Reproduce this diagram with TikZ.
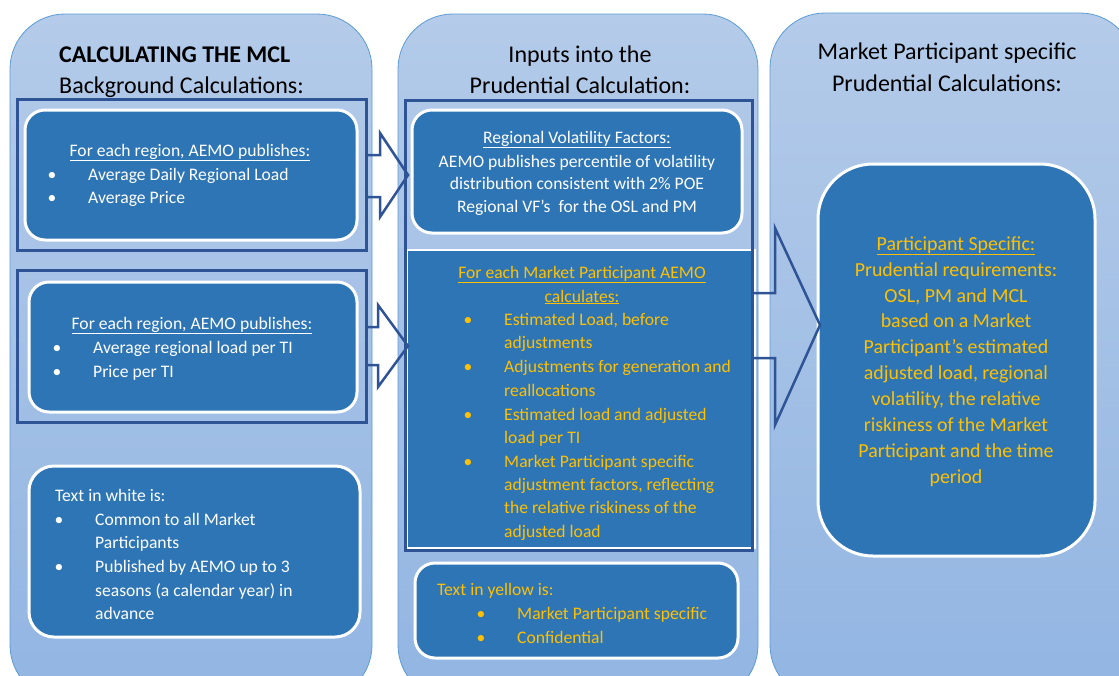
\documentclass[tikz,border=0pt]{standalone}
\usepackage{fontspec}
\setmainfont{Carlito}
\definecolor{colTop}{HTML}{B4CBE9}
\definecolor{colBot}{HTML}{92B5E2}
\definecolor{colEdge}{HTML}{5B9BD5}
\definecolor{boxBlue}{HTML}{2E75B6}
\definecolor{navy}{HTML}{2F5496}
\definecolor{ylw}{HTML}{FFC000}
\tikzset{
  column/.style={top color=colTop, bottom color=colBot, draw=colEdge, line width=0.8pt, rounded corners=55pt},
  outl/.style={draw=navy, line width=3pt},
  inbox/.style={fill=boxBlue, draw=white, line width=3pt, rounded corners=20pt},
  barrow/.style={draw=navy, line width=2.5pt, line join=miter},
  wl/.style={anchor=base west, inner sep=0pt},
  cl/.style={anchor=base, inner sep=0pt},
  body/.style={font=\fontsize{17.6}{21}\selectfont},
  ttl/.style={font=\fontsize{24}{28}\selectfont},
  big/.style={font=\fontsize{19.9}{23}\selectfont},
}
\begin{document}
\begin{tikzpicture}[x=1pt,y=-1pt]
\useasboundingbox (0,0) rectangle (1119,675);
\clip (0,0) rectangle (1119,675);
% columns
\path[column] (10,14) rectangle (372,700);
\path[column] (398,14) rectangle (758,700);
\path[column] (770,13) rectangle (1135,700);
% column 1 boxes
\path[outl] (17,99) rectangle (366,250);
\path[inbox] (25,110) rectangle (357,240);
\path[outl] (17,270) rectangle (366,422);
\path[inbox] (29,282) rectangle (357,412);
\path[inbox, rounded corners=25pt] (29,466) rectangle (360,637);
% column 2 boxes
\path[fill=boxBlue, draw=white, line width=2pt] (407,250) rectangle (755,548);
\path[outl] (405,100) rectangle (752,550);
\path[inbox] (412,110) rectangle (742,233);
\path[inbox] (415,563) rectangle (738,658);
% column 3 box
\path[inbox, rounded corners=55pt] (818,164) rectangle (1095,556);
% block arrows
\draw[barrow] (366,155) -- (380,155) -- (380,133) -- (408,175) -- (380,217) -- (380,197) -- (366,197);
\draw[barrow] (366,327) -- (378,327) -- (378,305) -- (408,346) -- (378,387) -- (378,365) -- (366,365);
\draw[barrow] (752,293) -- (775,293) -- (775,228) -- (820,325) -- (775,425) -- (775,358) -- (752,358);
% titles
\node[wl, font=\fontsize{24}{28}\selectfont\bfseries] (t1a) at (59,62) {CALCULATING THE MCL};
\node[wl, ttl] (t1b) at (59,93) {Background Calculations:};
\node[cl, ttl] (t2a) at (580,62) {Inputs into the};
\node[cl, ttl] (t2b) at (580,93) {Prudential Calculation:};
\node[cl, ttl] (t3a) at (947,59) {Market Participant specific};
\node[cl, ttl] (t3b) at (947,91) {Prudential Calculations:};
% column 1 box 1 text
\begin{scope}[text=white, body]
\node[cl] (a0) at (190,156) {\underline{For each region, AEMO publishes:}};
\node[cl] (a1b) at (52,180) {•};
\node[wl] (a1) at (88,180) {Average Daily Regional Load};
\node[cl] (a2b) at (52,203) {•};
\node[wl] (a2) at (88,203) {Average Price};
% box 2
\node[cl] (b0) at (192,329) {\underline{For each region, AEMO publishes:}};
\node[cl] (b1b) at (57,353) {•};
\node[wl] (b1) at (93,353) {Average regional load per TI};
\node[cl] (b2b) at (57,377) {•};
\node[wl] (b2) at (93,377) {Price per TI};
% box 3
\node[wl] (c0) at (55,501) {Text in white is:};
\node[cl] (c1b) at (59,525) {•};
\node[wl] (c1) at (95,525) {Common to all Market};
\node[wl] (c1x) at (95,548) {Participants};
\node[cl] (c2b) at (59,572) {•};
\node[wl] (c2) at (95,572) {Published by AEMO up to 3};
\node[wl] (c2x) at (95,596) {seasons (a calendar year) in};
\node[wl] (c2y) at (95,619) {advance};
% column 2 box 1
\node[cl] (d0) at (577,143) {\underline{Regional Volatility Factors:}};
\node[cl] (d1) at (577,167) {AEMO publishes percentile of volatility};
\node[cl] (d2) at (577,189) {distribution consistent with 2\% POE};
\node[cl] (d3) at (577,212) {Regional VF’s\ \ for the OSL and PM};
\end{scope}
\begin{scope}[text=ylw, body]
\node[cl] (e0) at (582,278) {\underline{For each Market Participant AEMO}};
\node[cl] (e0x) at (582,302) {\underline{calculates:}};
\node[cl] (e1b) at (468,325) {•};
\node[wl] (e1) at (504,325) {Estimated Load, before};
\node[wl] (e1x) at (504,348) {adjustments};
\node[cl] (e2b) at (468,372) {•};
\node[wl] (e2) at (504,372) {Adjustments for generation and};
\node[wl] (e2x) at (504,396) {reallocations};
\node[cl] (e3b) at (468,420) {•};
\node[wl] (e3) at (504,420) {Estimated load and adjusted};
\node[wl] (e3x) at (504,443) {load per TI};
\node[cl] (e4b) at (468,467) {•};
\node[wl] (e4) at (504,467) {Market Participant specific};
\node[wl] (e4x) at (504,490) {adjustment factors, reflecting};
\node[wl] (e4y) at (504,513) {the relative riskiness of the};
\node[wl] (e4z) at (504,537) {adjusted load};
% box 3
\node[wl] (f0) at (437,595) {Text in yellow is:};
\node[cl] (f1b) at (481,619) {•};
\node[wl] (f1) at (517,619) {Market Participant specific};
\node[cl] (f2b) at (481,643) {•};
\node[wl] (f2) at (517,643) {Confidential};
\end{scope}
% column 3 text
\begin{scope}[text=ylw, big]
\node[cl] (g0) at (956,250) {\underline{Participant Specific:}};
\node[cl] (g1) at (956,276) {Prudential requirements:};
\node[cl] (g2) at (956,302) {OSL, PM and MCL};
\node[cl] (g3) at (956,327) {based on a Market};
\node[cl] (g4) at (956,353) {Participant’s estimated};
\node[cl] (g5) at (956,379) {adjusted load, regional};
\node[cl] (g6) at (956,405) {volatility, the relative};
\node[cl] (g7) at (956,431) {riskiness of the Market};
\node[cl] (g8) at (956,457) {Participant and the time};
\node[cl] (g9) at (956,483) {period};
\end{scope}
\end{tikzpicture}
\end{document}
